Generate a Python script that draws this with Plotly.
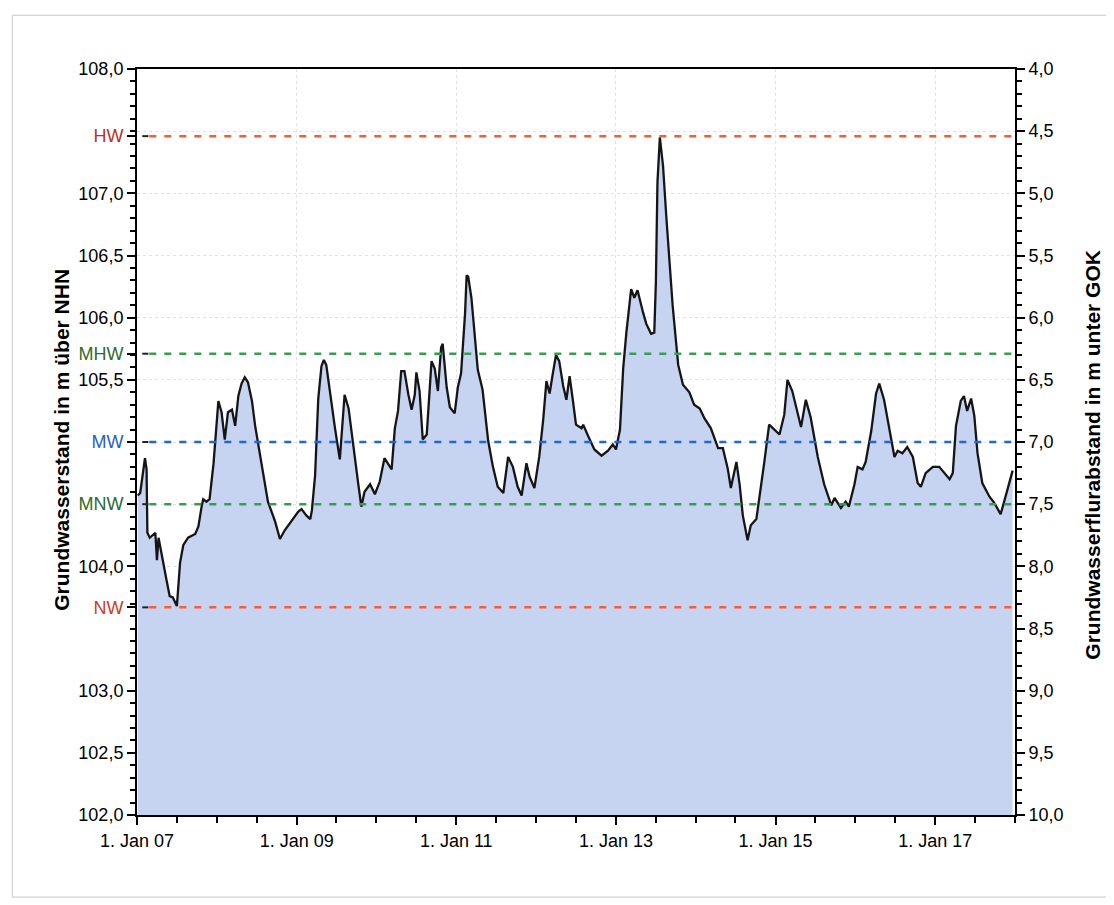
import plotly.graph_objects as go
import pandas as pd

# ---- data ----
# time as decimal years, groundwater level in m above NHN
years = [
    2007.01, 2007.04, 2007.10, 2007.12, 2007.13, 2007.16, 2007.23, 2007.25, 2007.27, 2007.31,
    2007.37, 2007.41, 2007.45, 2007.50, 2007.54, 2007.58, 2007.64, 2007.73, 2007.77, 2007.81,
    2007.83, 2007.87, 2007.91, 2007.96, 2008.00, 2008.02, 2008.06, 2008.10, 2008.14, 2008.19,
    2008.23, 2008.27, 2008.31, 2008.35, 2008.39, 2008.44, 2008.48, 2008.52, 2008.58, 2008.64,
    2008.73, 2008.79, 2008.85, 2008.94, 2009.02, 2009.06, 2009.12, 2009.17, 2009.19, 2009.23,
    2009.25, 2009.27, 2009.31, 2009.34, 2009.37, 2009.42, 2009.48, 2009.54, 2009.58, 2009.60,
    2009.65, 2009.71, 2009.77, 2009.81, 2009.85, 2009.92, 2009.98, 2010.04, 2010.10, 2010.15,
    2010.19, 2010.23, 2010.27, 2010.31, 2010.35, 2010.40, 2010.44, 2010.48, 2010.50, 2010.54,
    2010.58, 2010.63, 2010.67, 2010.69, 2010.73, 2010.77, 2010.81, 2010.83, 2010.88, 2010.92,
    2010.98, 2011.02, 2011.06, 2011.11, 2011.13, 2011.15, 2011.19, 2011.23, 2011.27, 2011.33,
    2011.40, 2011.46, 2011.52, 2011.59, 2011.65, 2011.71, 2011.77, 2011.82, 2011.88, 2011.92,
    2011.98, 2012.04, 2012.09, 2012.13, 2012.17, 2012.21, 2012.25, 2012.29, 2012.34, 2012.38,
    2012.42, 2012.46, 2012.50, 2012.57, 2012.59, 2012.65, 2012.73, 2012.82, 2012.90, 2012.96,
    2013.00, 2013.05, 2013.09, 2013.13, 2013.19, 2013.23, 2013.27, 2013.34, 2013.38, 2013.44,
    2013.48, 2013.50, 2013.52, 2013.55, 2013.59, 2013.63, 2013.67, 2013.71, 2013.78, 2013.84,
    2013.92, 2013.98, 2014.05, 2014.11, 2014.19, 2014.28, 2014.34, 2014.40, 2014.44, 2014.51,
    2014.55, 2014.59, 2014.65, 2014.69, 2014.76, 2014.80, 2014.86, 2014.92, 2014.99, 2015.05,
    2015.11, 2015.15, 2015.21, 2015.32, 2015.38, 2015.44, 2015.53, 2015.61, 2015.70, 2015.74,
    2015.82, 2015.88, 2015.92, 2015.99, 2016.03, 2016.09, 2016.13, 2016.20, 2016.26, 2016.30,
    2016.36, 2016.42, 2016.49, 2016.53, 2016.59, 2016.65, 2016.72, 2016.78, 2016.82, 2016.88,
    2016.97, 2017.05, 2017.11, 2017.18, 2017.22, 2017.26, 2017.32, 2017.36, 2017.40, 2017.45,
    2017.49, 2017.53, 2017.59, 2017.68, 2017.74, 2017.82, 2017.86, 2017.93, 2017.97,
]
level = [
    104.57, 104.59, 104.87, 104.78, 104.27, 104.23, 104.27, 104.05, 104.23, 104.08,
    103.89, 103.76, 103.75, 103.68, 104.03, 104.17, 104.23, 104.26, 104.32, 104.48,
    104.54, 104.52, 104.54, 104.83, 105.13, 105.33, 105.24, 105.02, 105.24, 105.26,
    105.13, 105.37, 105.47, 105.52, 105.48, 105.33, 105.13, 104.97, 104.76, 104.52,
    104.36, 104.22, 104.29, 104.37, 104.44, 104.46, 104.41, 104.38, 104.45, 104.73,
    105.11, 105.35, 105.61, 105.66, 105.62, 105.38, 105.11, 104.86, 105.22, 105.38,
    105.27, 104.95, 104.67, 104.48, 104.60, 104.66, 104.58, 104.68, 104.87, 104.82,
    104.78, 105.11, 105.25, 105.57, 105.57, 105.38, 105.26, 105.38, 105.56, 105.41,
    105.02, 105.06, 105.44, 105.65, 105.59, 105.41, 105.76, 105.79, 105.44, 105.28,
    105.23, 105.44, 105.55, 106.03, 106.34, 106.33, 106.16, 105.84, 105.58, 105.42,
    105.01, 104.80, 104.64, 104.59, 104.88, 104.80, 104.64, 104.57, 104.83, 104.72,
    104.63, 104.88, 105.18, 105.49, 105.39, 105.55, 105.70, 105.65, 105.45, 105.34,
    105.53, 105.34, 105.14, 105.11, 105.14, 105.05, 104.94, 104.89, 104.93, 104.98,
    104.94, 105.10, 105.59, 105.88, 106.23, 106.16, 106.22, 106.04, 105.95, 105.87,
    105.88, 106.28, 107.09, 107.45, 107.22, 106.82, 106.42, 106.10, 105.62, 105.46,
    105.40, 105.30, 105.27, 105.19, 105.11, 104.95, 104.95, 104.79, 104.63, 104.84,
    104.66, 104.41, 104.21, 104.33, 104.38, 104.55, 104.84, 105.14, 105.10, 105.06,
    105.22, 105.50, 105.41, 105.12, 105.34, 105.20, 104.88, 104.66, 104.49, 104.55,
    104.47, 104.52, 104.48, 104.66, 104.80, 104.78, 104.84, 105.09, 105.39, 105.47,
    105.34, 105.12, 104.88, 104.93, 104.91, 104.96, 104.88, 104.67, 104.64, 104.75,
    104.80, 104.80, 104.75, 104.70, 104.75, 105.13, 105.33, 105.37, 105.25, 105.35,
    105.21, 104.91, 104.67, 104.56, 104.51, 104.42, 104.51, 104.67, 104.77,
]

# characteristic levels (m above NHN)
ref_names = ["HW", "MHW", "MW", "MNW", "NW"]
ref_values = [107.46, 105.71, 105.00, 104.50, 103.67]
ref_line_colors = ["#ff5a36", "#35a04c", "#2266d8", "#35a04c", "#ff5a36"]
ref_label_colors = ["#b8321e", "#2f6a2f", "#2a5fc0", "#2f6a2f", "#c8401e"]

# ground surface level (GOK) relating left and right axes
gok = 112.0

left_tick_values = [102.0, 102.5, 103.0, 104.0, 105.5, 106.0, 106.5, 107.0, 108.0]
left_tick_labels = ["102,0", "102,5", "103,0", "104,0", "105,5", "106,0", "106,5", "107,0", "108,0"]

x_tick_dates = ["2007-01-01", "2009-01-01", "2011-01-01", "2013-01-01", "2015-01-01", "2017-01-01"]
x_tick_labels = ["1. Jan 07", "1. Jan 09", "1. Jan 11", "1. Jan 13", "1. Jan 15", "1. Jan 17"]

x_range = ["2007-01-01", "2018-01-01"]
y_range = [102.0, 108.0]


def to_date(t):
    y = int(t)
    start = pd.Timestamp(year=y, month=1, day=1)
    end = pd.Timestamp(year=y + 1, month=1, day=1)
    return start + (end - start) * (t - y)


dates = [to_date(t) for t in years]

FONT = "Arial, Liberation Sans, sans-serif"

fig = go.Figure()

# filled hydrograph
fig.add_trace(go.Scatter(
    x=dates, y=level, mode="lines",
    line=dict(color="#151515", width=2.3),
    fill="tozeroy", fillcolor="#c6d4f2",
    showlegend=False, hoverinfo="skip",
))

# invisible companion on the right (depth below GOK) axis
fig.add_trace(go.Scatter(
    x=[dates[0], dates[-1]], y=[gok - y_range[1], gok - y_range[0]],
    mode="markers", marker=dict(opacity=0), yaxis="y2",
    showlegend=False, hoverinfo="skip",
))

# characteristic level lines
for name, val, col in zip(ref_names, ref_values, ref_line_colors):
    fig.add_shape(type="line", xref="paper", yref="y", x0=0.014, x1=1.0, y0=val, y1=val,
                  line=dict(color=col, width=2.5, dash="7px,8px"), layer="above")
    fig.add_shape(type="line", xref="paper", yref="y", x0=0.006, x1=0.013, y0=val, y1=val,
                  line=dict(color="#222222", width=2), layer="above")

# tick values for the left axis, including the characteristic levels
tv = list(left_tick_values) + list(ref_values)
tt = list(left_tick_labels) + [
    f"<span style='color:{c}'>{n}</span>" for n, c in zip(ref_names, ref_label_colors)
]

fig.update_layout(
    width=1114, height=905,
    margin=dict(l=129, r=107, t=61, b=98),
    paper_bgcolor="white", plot_bgcolor="white",
    separators=",.",
    showlegend=False,
    font=dict(family=FONT, size=18, color="black"),
    xaxis=dict(
        type="date", range=x_range,
        tickmode="array", tickvals=x_tick_dates, ticktext=x_tick_labels,
        ticks="outside", ticklen=8, tickwidth=2, tickcolor="black",
        showline=True, linecolor="black", linewidth=2, mirror=True,
        showgrid=True, gridcolor="#e2e2e2", griddash="dot", gridwidth=1,
        zeroline=False,
        tickfont=dict(family=FONT, size=18, color="black"),
        minor=dict(dtick="M6", tick0="2007-01-01", ticks="outside", ticklen=6,
                   tickwidth=1.5, tickcolor="black", showgrid=False),
    ),
    yaxis=dict(
        range=y_range,
        tickmode="array", tickvals=tv, ticktext=tt,
        ticks="outside", ticklen=8, tickwidth=2, tickcolor="black",
        showline=True, linecolor="black", linewidth=2,
        showgrid=False, zeroline=False,
        tickfont=dict(family=FONT, size=18, color="black"),
        minor=dict(dtick=0.1, tick0=102.0, ticks="outside", ticklen=5,
                   tickwidth=1.5, tickcolor="black", showgrid=False),
    ),
    yaxis2=dict(
        overlaying="y", side="right",
        range=[gok - y_range[0], gok - y_range[1]],
        tickmode="linear", tick0=4.0, dtick=0.5, tickformat=".1f",
        ticks="outside", ticklen=8, tickwidth=2, tickcolor="black",
        showline=True, linecolor="black", linewidth=2,
        showgrid=True, gridcolor="#e2e2e2", griddash="dot", gridwidth=1,
        zeroline=False,
        tickfont=dict(family=FONT, size=18, color="black"),
        minor=dict(dtick=0.1, tick0=4.0, ticks="outside", ticklen=5,
                   tickwidth=1.5, tickcolor="black", showgrid=False),
    ),
)

# axis titles
fig.add_annotation(
    text="<b>Grundwasserstand in m über NHN</b>", xref="paper", yref="paper",
    x=-0.0854, y=0.503, textangle=-90, showarrow=False,
    font=dict(family=FONT, size=21, color="black"), xanchor="center", yanchor="middle",
)
fig.add_annotation(
    text="<b>Grundwasserflurabstand in m unter GOK</b>", xref="paper", yref="paper",
    x=1.0888, y=0.483, textangle=-90, showarrow=False,
    font=dict(family=FONT, size=21, color="black"), xanchor="center", yanchor="middle",
)

# thin outer frame of the picture
fig.add_shape(type="rect", xref="paper", yref="paper",
              x0=-0.142, x1=1.106, y0=-0.11, y1=1.072,
              line=dict(color="#c8c8c8", width=1), layer="below")

fig.write_html("out.html")
